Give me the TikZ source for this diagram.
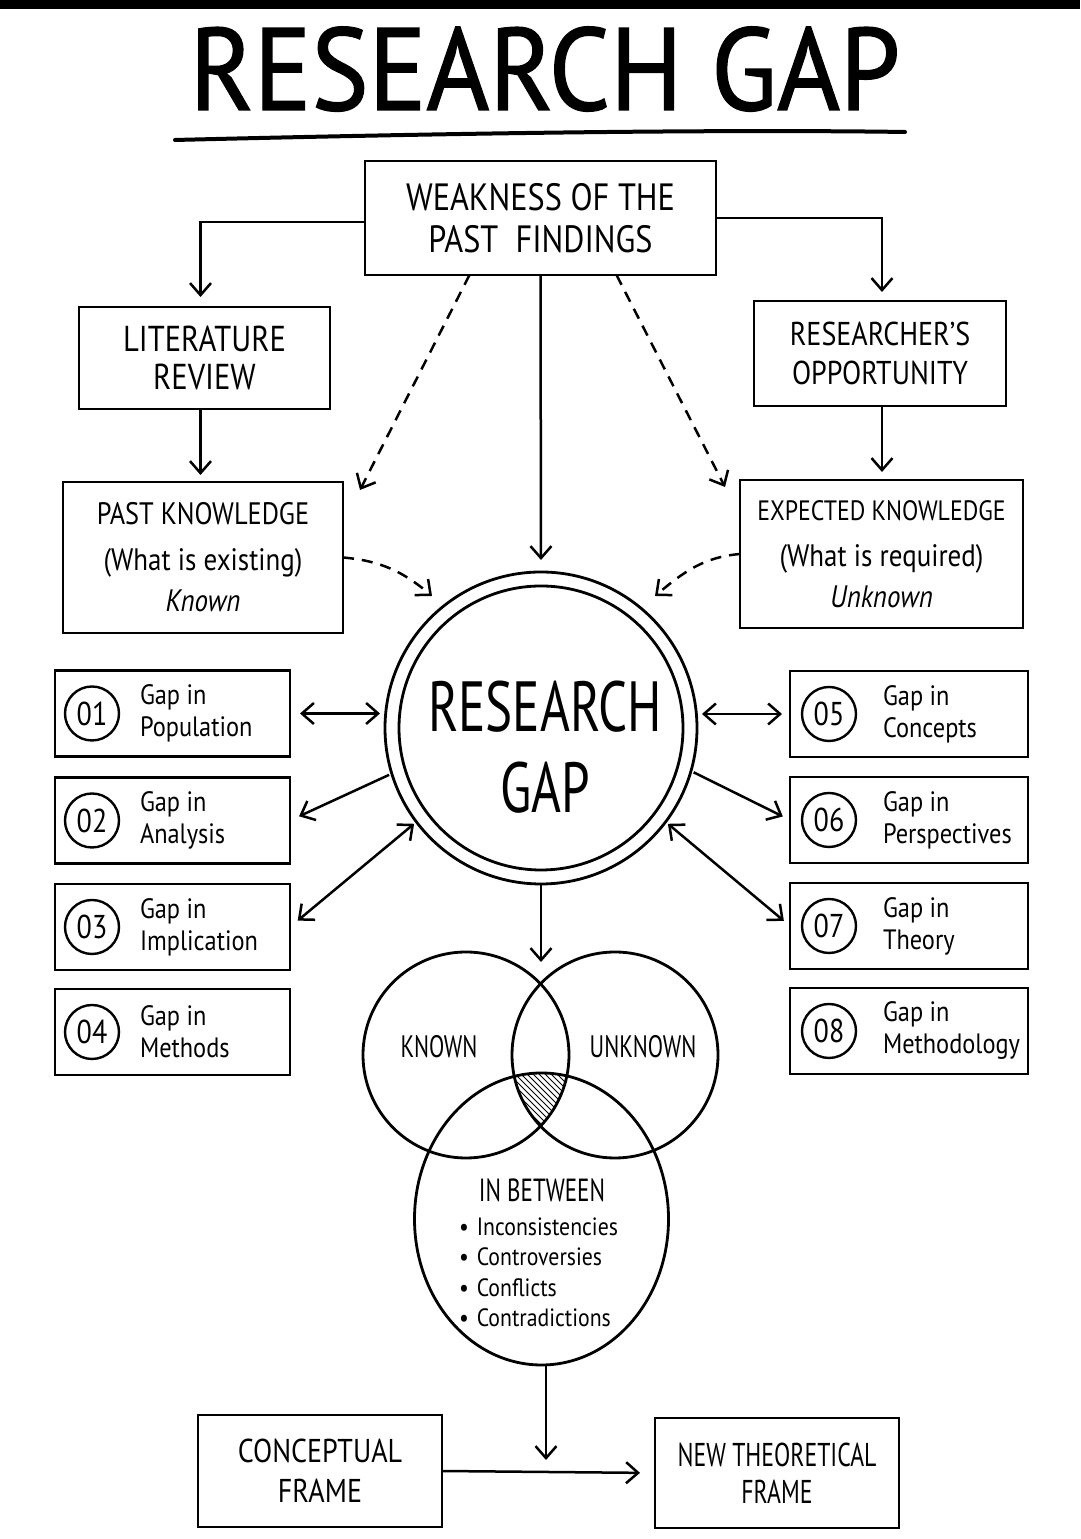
\documentclass[tikz,border=0pt]{standalone}
\usepackage{fontspec}
\setmainfont{PT Sans}[FakeStretch=0.87]
\newfontfamily\capsfont{PT Sans}[FakeStretch=0.72]
\newfontfamily\labelfont{PT Sans}[FakeStretch=0.85]
\newfontfamily\titlefont{PT Sans}[FakeStretch=0.92,FakeBold=1.2]
\usepackage{tikz}
\usetikzlibrary{arrows.meta,shapes.geometric}
\newcommand{\fsz}[2]{\fontsize{#1}{#2}\selectfont}

\begin{document}
\begin{tikzpicture}[x=1pt,y=1pt]
  \tikzstyle{every node}=[inner sep=0pt,outer sep=0pt]
  \tikzstyle{box}=[draw,line width=2.8pt,align=center]
  \tikzstyle{gapbox}=[draw,line width=2.6pt,minimum height=86pt]
  \tikzstyle{numring}=[circle,draw,line width=2.4pt,minimum size=54pt,font=\labelfont\fsz{33}{33}]
  \tikzstyle{gaptext}=[anchor=west,align=left,font=\fsz{28}{32}]
  \tikzstyle{ring}=[circle,draw,line width=2.8pt]
  \tikzstyle{arr}=[line width=2.5pt,-{Straight Barb[length=12pt,width=21pt]}]
  \tikzstyle{darr}=[line width=2.5pt,{Straight Barb[length=12pt,width=21pt]}-{Straight Barb[length=12pt,width=21pt]}]
  \tikzstyle{dasharr}=[arr,dash pattern=on 11pt off 8pt]
  \fill[white] (0,0) rectangle (1080,1539);
  \fill[black] (0,1530) rectangle (1080,1539);
  \useasboundingbox (0,0) rectangle (1080,1539);
  % heading
  \node [anchor=base,font=\titlefont\fsz{117}{120}] (title) at (545,1429) {RESEARCH GAP};
  \draw [line width=4pt,line cap=round] (175,1399) .. controls (420,1405) and (700,1410) .. (905,1407);
  % top row
  \node [box,minimum width=351pt,minimum height=114pt,font=\labelfont\fsz{38}{42}] (weak) at (540.5,1321) {WEAKNESS OF THE\\PAST\ \ FINDINGS};
  \node [box,minimum width=251pt,minimum height=102pt,font=\labelfont\fsz{36}{38}] (lit) at (204.5,1181) {LITERATURE\\REVIEW};
  \node [box,minimum width=252pt,minimum height=105pt,font=\labelfont\fsz{33}{39}] (opp) at (880,1185.5) {RESEARCHER’S\\OPPORTUNITY};
  \node [box,minimum width=280pt,minimum height=151pt,font=\fsz{31}{41}] (past) at (203,981.5) {{\labelfont PAST\ KNOWLEDGE}\\[5pt](What is existing)\\\textit{Known}};
  \node [box,minimum width=283pt,minimum height=148pt,font=\fsz{31}{41}] (expk) at (881.5,985) {{\labelfont\fsz{28}{41}EXPECTED\ KNOWLEDGE}\\[5pt](What is required)\\\textit{Unknown}};
  % centre
  \node [ring,minimum size=312pt] (gap) at (541,811) {};
  \draw [line width=2.8pt] (gap.center) circle[radius=142];
  \node [align=center,font=\capsfont\fsz{71}{81}] (gaptxt) at (545,792) {RESEARCH\\GAP};
  % gaps, left
  \node [gapbox,minimum width=235pt] (g1) at (172.5,825.5) {};
  \node [numring] (n1) at ([xshift=37pt]g1.west) {01};
  \node [gaptext] (t1) at ([xshift=85pt]g1.west) {Gap in\\Population};
  \node [gapbox,minimum width=235pt] (g2) at (172.5,718.5) {};
  \node [numring] (n2) at ([xshift=37pt]g2.west) {02};
  \node [gaptext] (t2) at ([xshift=85pt]g2.west) {Gap in\\Analysis};
  \node [gapbox,minimum width=235pt] (g3) at (172.5,612) {};
  \node [numring] (n3) at ([xshift=37pt]g3.west) {03};
  \node [gaptext] (t3) at ([xshift=85pt]g3.west) {Gap in\\Implication};
  \node [gapbox,minimum width=235pt] (g4) at (172.5,507) {};
  \node [numring] (n4) at ([xshift=37pt]g4.west) {04};
  \node [gaptext] (t4) at ([xshift=85pt]g4.west) {Gap in\\Methods};
  % gaps, right
  \node [gapbox,minimum width=238pt] (g5) at (909,825) {};
  \node [numring] (n5) at ([xshift=39pt]g5.west) {05};
  \node [gaptext] (t5) at ([xshift=93pt]g5.west) {Gap in\\Concepts};
  \node [gapbox,minimum width=238pt] (g6) at (909,719) {};
  \node [numring] (n6) at ([xshift=39pt]g6.west) {06};
  \node [gaptext] (t6) at ([xshift=93pt]g6.west) {Gap in\\Perspectives};
  \node [gapbox,minimum width=238pt] (g7) at (909,613) {};
  \node [numring] (n7) at ([xshift=39pt]g7.west) {07};
  \node [gaptext] (t7) at ([xshift=93pt]g7.west) {Gap in\\Theory};
  \node [gapbox,minimum width=238pt] (g8) at (909,508) {};
  \node [numring] (n8) at ([xshift=39pt]g8.west) {08};
  \node [gaptext] (t8) at ([xshift=93pt]g8.west) {Gap in\\Methodology};
  % venn
  \node [ring,minimum size=206pt] (known) at (466,484) {};
  \node [ring,minimum size=206pt] (unknown) at (615,484) {};
  \node [ellipse,draw,line width=2.8pt,minimum width=254pt,minimum height=292pt] (between) at (541.5,320) {};
  \begin{scope}
    \clip (466,484) circle[radius=103];
    \clip (615,484) circle[radius=103];
    \clip (541.5,320) ellipse[x radius=127,y radius=146];
    \foreach \s in {420,426,...,620}
      \draw [line width=0.8pt] (\s,500) -- ++(90,-90);
  \end{scope}
  \node [font=\capsfont\fsz{31}{31}] (knowntxt) at (439,492) {KNOWN};
  \node [font=\capsfont\fsz{31}{31}] (unknowntxt) at (643,492) {UNKNOWN};
  \node [font=\capsfont\fsz{32}{32}] (betweentxt) at (542,349) {IN\ BETWEEN};
  \node [anchor=west,align=left,font=\fsz{25}{30.5}] (cases) at (459,266.5) {\textbullet\hspace{8pt}Inconsistencies\\\textbullet\hspace{8pt}Controversies\\\textbullet\hspace{8pt}Conflicts\\\textbullet\hspace{8pt}Contradictions};
  % bottom
  \node [box,minimum width=244pt,minimum height=112pt,font=\labelfont\fsz{33}{40}] (concept) at (320,68) {CONCEPTUAL\\FRAME};
  \node [box,minimum width=244pt,minimum height=110pt,font=\capsfont\fsz{33}{37}] (newframe) at (777,66) {NEW THEORETICAL\\FRAME};
  % connectors
  \coordinate (dl) at (360,1049);
  \coordinate (dr) at (725,1052);
  \coordinate (cl) at (432,943);
  \coordinate (cr) at (655,943);
  \coordinate (venntop) at (541,577);
  \draw [arr,shorten >=10pt] ([yshift=-4pt]weak.west) -| ([xshift=-4pt]lit.north);
  \draw [arr,shorten >=9pt] (weak.east) -| ([xshift=2pt]opp.north);
  \draw [arr,shorten >=7pt] ([xshift=-4pt]lit.south) -- ([xshift=-4pt]lit.south |- past.north);
  \draw [arr,shorten >=8pt] ([xshift=2pt]opp.south) -- ([xshift=2pt]opp.south |- expk.north);
  \draw [dasharr] ([xshift=-71pt]weak.south) -- (dl);
  \draw [dasharr] ([xshift=76pt]weak.south) -- (dr);
  \draw [arr,shorten >=12pt] (weak.south) -- (gap.north);
  \draw [dasharr] (past.east) to[out=-5,in=140] (cl);
  \draw [dasharr] (expk.west) to[out=185,in=40] (cr);
  \draw [darr,shorten <=10pt,shorten >=5pt] (g1.east) -- (g1.east -| gap.west);
  \draw [arr,shorten <=3pt,shorten >=10pt] (gap.197) -- (g2.east);
  \draw [darr,shorten <=10pt,shorten >=3pt] (g3.east) -- (gap.217);
  \draw [darr,shorten <=8pt,shorten >=5pt] (g5.west) -- (g5.west -| gap.east);
  \draw [arr,shorten <=3pt,shorten >=8pt] (gap.-16) -- (g6.west);
  \draw [darr,shorten <=8pt,shorten >=3pt] (g7.west) -- (gap.-37);
  \draw [arr] (gap.south) -- (venntop);
  \draw [arr,shorten >=11pt] ([xshift=4.5pt]between.south) -- ([xshift=4.5pt]between.south |- concept.east);
  \draw [arr,shorten >=15pt] (concept.east) -- (newframe.west);
\end{tikzpicture}
\end{document}
